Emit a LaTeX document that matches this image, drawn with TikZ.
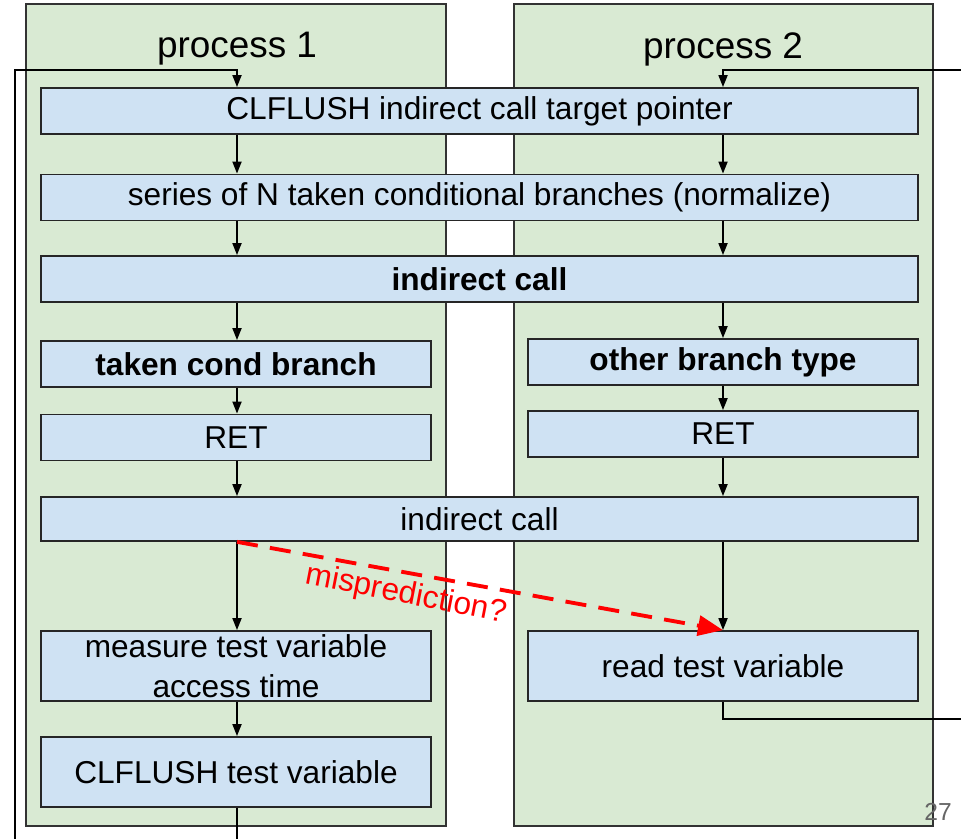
\documentclass[tikz,border=0pt]{standalone}
\usepackage{fontspec}
\setmainfont{Liberation Sans}
\usetikzlibrary{arrows.meta,positioning}
\definecolor{panelgreen}{HTML}{D9EAD3}
\definecolor{boxblue}{HTML}{CFE2F3}

\begin{document}
\begin{tikzpicture}
[line width=1pt, >={Triangle[length=2.4mm,width=1.8mm]},
panel/.style={rectangle, draw=black!80, fill=panelgreen, inner sep=0pt, minimum height=16.44cm},
entry/.style={rectangle, draw=black!85, fill=boxblue, inner sep=0pt, minimum height=0.92cm, align=center, font=\fontsize{18}{22.5}\selectfont},
wide/.style={entry, minimum width=17.54cm},
half/.style={entry, minimum width=7.80cm},
tall/.style={half, minimum height=1.40cm},
title/.style={font=\fontsize{21}{25}\selectfont}]

\useasboundingbox (0,0) rectangle (19.22,16.78);

% the two processes
\node[panel, minimum width=8.40cm] (p1) at (4.72,8.48) {};
\node[panel, minimum width=8.38cm] (p2) at (14.47,8.48) {};
\node[title] (t1) at (4.74,15.80) {process 1};
\node[title] (t2) at (14.46,15.80) {process 2};

\coordinate (cl) at (4.74,0);
\coordinate (cr) at (14.46,0);

\node[wide] (s1) at (9.59,14.56) {CLFLUSH indirect call target pointer};
\node[wide] (s2) at (9.59,12.83) {series of N taken conditional branches (normalize)};
\node[wide] (s3) at (9.59,11.20) {\textbf{indirect call}};
\node[half] (l4) at (4.72,9.50) {\textbf{taken cond branch}};
\node[half] (r4) at (14.46,9.54) {\textbf{other branch type}};
\node[half] (l5) at (4.72,8.03) {RET};
\node[half] (r5) at (14.46,8.10) {RET};
\node[wide, minimum height=0.88cm] (s6) at (9.59,6.40) {indirect call};
\node[tall] (l7) at (4.72,3.46) {measure test variable\\access time};
\node[tall] (r7) at (14.46,3.46) {read test variable};
\node[tall] (l8) at (4.72,1.34) {CLFLUSH test variable};

% process 1
\draw[->] (s1.south -| cl) -- (s2.north -| cl);
\draw[->] (s2.south -| cl) -- (s3.north -| cl);
\draw[->] (s3.south -| cl) -- (l4.north -| cl);
\draw[->] (l4.south -| cl) -- (l5.north -| cl);
\draw[->] (l5.south -| cl) -- (s6.north -| cl);
\draw[->] (s6.south -| cl) -- (l7.north -| cl);
\draw[->] (l7.south -| cl) -- (l8.north -| cl);

% process 2
\draw[->] (s1.south -| cr) -- (s2.north -| cr);
\draw[->] (s2.south -| cr) -- (s3.north -| cr);
\draw[->] (s3.south -| cr) -- (r4.north -| cr);
\draw[->] (r4.south -| cr) -- (r5.north -| cr);
\draw[->] (r5.south -| cr) -- (s6.north -| cr);
\draw[->] (s6.south -| cr) -- (r7.north -| cr);

% loops back to the top
\coordinate (lb) at (0.30,0);
\coordinate (lt) at (0.30,15.38);
\coordinate (rt) at (19.22,15.38);
\coordinate (rb) at (19.22,2.40);
\draw[->] (lb) -- (lt) -| (s1.north -| cl);
\draw (l8.south -| cl) -- (cl);
\draw[->] (rt) -| (s1.north -| cr);
\draw (r7.south -| cr) |- (rb);

% misprediction
\draw[red, line width=2.2pt, dash pattern=on 12pt off 7pt, -{Triangle[length=5mm,width=4mm]}] (s6.south -| cl) -- (r7.north -| cr);
\node[rotate=-11, text=red, font=\fontsize{18}{22}\selectfont] (miss) at (8.12,4.88) {misprediction?};

\node[text=black!60, font=\fontsize{14}{16}\selectfont] (pnum) at (18.76,0.54) {27};
\end{tikzpicture}
\end{document}
